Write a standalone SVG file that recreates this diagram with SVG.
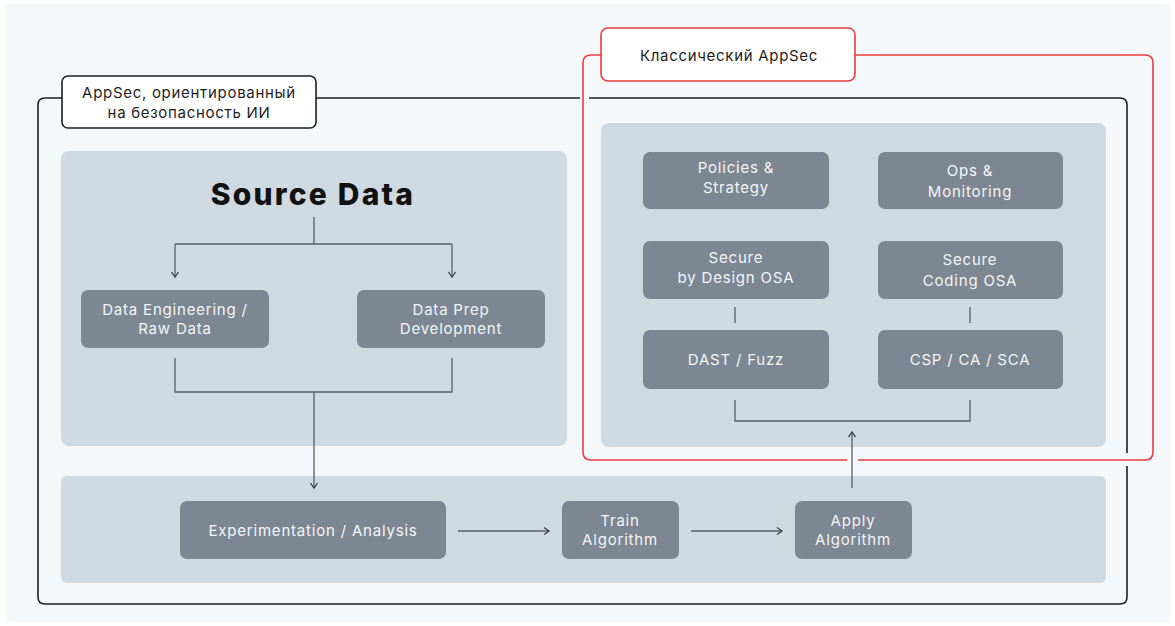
<svg xmlns="http://www.w3.org/2000/svg" width="1175" height="626" viewBox="0 0 1175 626">
<defs>
<style>
.bg{fill:#f5f8fb}
.panel{fill:#cfd9e2}
.node{fill:#7c8793}
.nt{font-family:Inter,"Liberation Sans",sans-serif;font-size:15px;fill:#f3f5f7;text-anchor:middle;letter-spacing:0.8px}
.lt{font-family:Inter,"Liberation Sans",sans-serif;font-size:15px;fill:#1e1e1e;text-anchor:middle;letter-spacing:0.7px}
.conn{fill:none;stroke:#5a5f66;stroke-width:1.3}
.frame{fill:none;stroke:#1f1f1f;stroke-width:1.6}
.red{fill:none;stroke:#ec3c3c;stroke-width:1.6}
</style>
<marker id="arr" markerWidth="10" markerHeight="10" refX="8" refY="5" orient="auto" markerUnits="userSpaceOnUse">
<path d="M3,1.5 L8,5 L3,8.5" fill="none" stroke="#3a3f45" stroke-width="1.3"/>
</marker>
</defs>
<rect x="0" y="0" width="1175" height="626" fill="#ffffff"/>
<rect class="bg" x="6" y="4" width="1164" height="618"/>

<g id="outer-frame">
<path class="frame" d="M62,98 H45 Q38,98 38,105 V597 Q38,604 45,604 H1120 Q1127,604 1127,597 V466"/>
<path class="frame" d="M1127,453 V105 Q1127,98 1120,98 H589"/>
<path class="frame" d="M580,98 H316"/>
</g>

<g id="panel-source">
<rect class="panel" x="61" y="151" width="506" height="295" rx="8"/>
</g>
<g id="panel-classic">
<rect class="panel" x="601" y="123" width="505" height="324" rx="8"/>
</g>
<g id="panel-pipeline">
<rect class="panel" x="61" y="476" width="1045" height="107" rx="6"/>
</g>

<g id="red-frame">
<path class="red" d="M601,55 H591 Q583,55 583,63 V452 Q583,460 591,460 H847"/>
<path class="red" d="M858,460 H1145 Q1153,460 1153,452 V63 Q1153,55 1145,55 H855"/>
</g>

<g id="label-ai">
<rect x="62" y="76" width="254" height="52" rx="6" fill="#ffffff" stroke="#1f1f1f" stroke-width="1.6"/>
<text class="lt" x="189" y="98">AppSec, ориентированный</text>
<text class="lt" x="189" y="118">на безопасность ИИ</text>
</g>

<g id="label-classic">
<rect x="601" y="28" width="254" height="53" rx="7" fill="#ffffff" stroke="#ec3c3c" stroke-width="1.6"/>
<text class="lt" x="729" y="61">Классический AppSec</text>
</g>

<g id="source-data">
<text x="313" y="205" font-family="Inter,'DejaVu Sans',sans-serif" font-weight="800" font-size="30" letter-spacing="2.2" text-anchor="middle" fill="#111111">Source Data</text>
</g>

<g id="connectors">
<path class="conn" d="M314,217 V244 M175,244 H452"/>
<path class="conn" d="M175,244 V277" marker-end="url(#arr)"/>
<path class="conn" d="M452,244 V277" marker-end="url(#arr)"/>
<path class="conn" d="M175,358 V392 H452 V358"/>
<path class="conn" d="M314,392 V488" marker-end="url(#arr)"/>
<path class="conn" d="M458,531 H549" marker-end="url(#arr)"/>
<path class="conn" d="M691,531 H782" marker-end="url(#arr)"/>
<path class="conn" d="M852,488 V432" marker-end="url(#arr)"/>
<path class="conn" d="M735,307 V323 M970,307 V323"/>
<path class="conn" d="M735,400 V421 H970 V400"/>
</g>

<g id="node-data-eng">
<rect class="node" x="81" y="290" width="188" height="58" rx="7"/>
<text class="nt" x="175" y="315">Data Engineering /</text>
<text class="nt" x="175" y="334">Raw Data</text>
</g>
<g id="node-data-prep">
<rect class="node" x="357" y="290" width="188" height="58" rx="7"/>
<text class="nt" x="451" y="315">Data Prep</text>
<text class="nt" x="451" y="334">Development</text>
</g>

<g id="node-policies">
<rect class="node" x="643" y="152" width="186" height="57" rx="7"/>
<text class="nt" x="736" y="173">Policies &amp;</text>
<text class="nt" x="736" y="193">Strategy</text>
</g>
<g id="node-ops">
<rect class="node" x="878" y="152" width="185" height="57" rx="7"/>
<text class="nt" x="970" y="176">Ops &amp;</text>
<text class="nt" x="970" y="197">Monitoring</text>
</g>
<g id="node-sbd">
<rect class="node" x="643" y="241" width="186" height="58" rx="7"/>
<text class="nt" x="736" y="263">Secure</text>
<text class="nt" x="736" y="283">by Design OSA</text>
</g>
<g id="node-sc">
<rect class="node" x="878" y="241" width="185" height="58" rx="7"/>
<text class="nt" x="970" y="265">Secure</text>
<text class="nt" x="970" y="286">Coding OSA</text>
</g>
<g id="node-dast">
<rect class="node" x="643" y="330" width="186" height="59" rx="7"/>
<text class="nt" x="736" y="365">DAST / Fuzz</text>
</g>
<g id="node-csp">
<rect class="node" x="878" y="330" width="185" height="59" rx="7"/>
<text class="nt" x="970" y="365">CSP / CA / SCA</text>
</g>

<g id="node-exp">
<rect class="node" x="180" y="501" width="266" height="58" rx="7"/>
<text class="nt" x="313" y="536">Experimentation / Analysis</text>
</g>
<g id="node-train">
<rect class="node" x="562" y="501" width="117" height="58" rx="7"/>
<text class="nt" x="620" y="526">Train</text>
<text class="nt" x="620" y="545">Algorithm</text>
</g>
<g id="node-apply">
<rect class="node" x="795" y="501" width="117" height="58" rx="7"/>
<text class="nt" x="853" y="526">Apply</text>
<text class="nt" x="853" y="545">Algorithm</text>
</g>
</svg>
